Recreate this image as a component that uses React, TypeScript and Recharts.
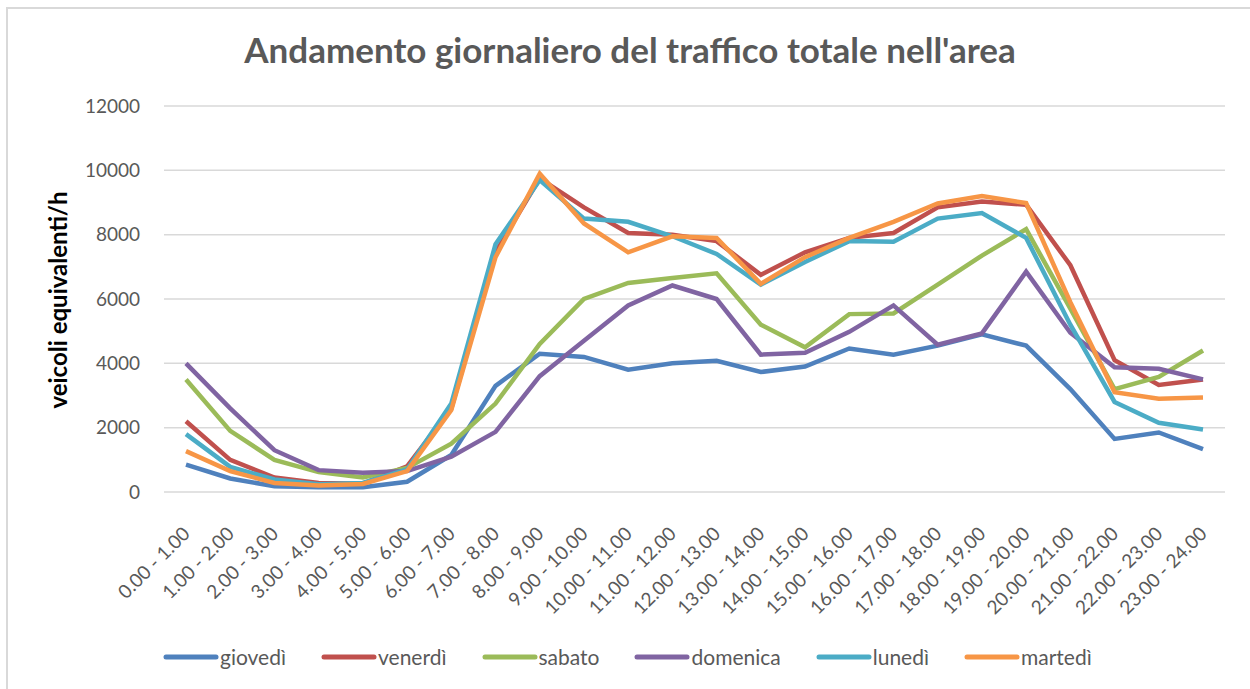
import React from 'react';
import { LineChart, Line, XAxis, YAxis, CartesianGrid, Legend } from 'recharts';

const hours = [
  '0.00 - 1.00', '1.00 - 2.00', '2.00 - 3.00', '3.00 - 4.00', '4.00 - 5.00', '5.00 - 6.00',
  '6.00 - 7.00', '7.00 - 8.00', '8.00 - 9.00', '9.00 - 10.00', '10.00 - 11.00', '11.00 - 12.00',
  '12.00 - 13.00', '13.00 - 14.00', '14.00 - 15.00', '15.00 - 16.00', '16.00 - 17.00', '17.00 - 18.00',
  '18.00 - 19.00', '19.00 - 20.00', '20.00 - 21.00', '21.00 - 22.00', '22.00 - 23.00', '23.00 - 24.00',
];

const giovedi = [850, 420, 180, 150, 150, 320, 1150, 3300, 4300, 4200, 3800, 4000, 4080, 3730, 3900, 4460, 4270, 4550, 4900, 4550, 3200, 1650, 1850, 1330];
const venerdi = [2200, 1000, 450, 280, 260, 800, 2600, 7450, 9750, 8850, 8050, 8000, 7800, 6750, 7450, 7900, 8050, 8850, 9030, 8930, 7050, 4100, 3330, 3500];
const sabato = [3500, 1900, 1000, 620, 450, 750, 1500, 2750, 4600, 6000, 6500, 6650, 6800, 5200, 4500, 5530, 5550, 6450, 7350, 8170, 5700, 3200, 3580, 4400];
const domenica = [4000, 2600, 1300, 680, 600, 650, 1100, 1870, 3600, 4700, 5800, 6420, 6000, 4270, 4330, 4980, 5800, 4580, 4930, 6850, 4950, 3880, 3830, 3500];
const lunedi = [1800, 780, 390, 240, 280, 700, 2750, 7700, 9700, 8500, 8400, 7950, 7400, 6450, 7150, 7800, 7780, 8500, 8670, 7900, 5200, 2800, 2150, 1940];
const martedi = [1270, 650, 280, 200, 250, 650, 2550, 7300, 9900, 8350, 7450, 7950, 7900, 6470, 7300, 7900, 8400, 8970, 9200, 8980, 5900, 3100, 2900, 2940];

const yTicks = [0, 2000, 4000, 6000, 8000, 10000, 12000];

const seriesNames = ['giovedì', 'venerdì', 'sabato', 'domenica', 'lunedì', 'martedì'];
const seriesKeys = ['giovedi', 'venerdi', 'sabato', 'domenica', 'lunedi', 'martedi'];
const seriesColors = ['#4F81BD', '#C0504D', '#9BBB59', '#8064A2', '#4BACC6', '#F79646'];

const data = hours.map((h, i) => ({
  hour: h,
  giovedi: giovedi[i],
  venerdi: venerdi[i],
  sabato: sabato[i],
  domenica: domenica[i],
  lunedi: lunedi[i],
  martedi: martedi[i],
}));

const FONT = 'Lato, "Open Sans", sans-serif';
const GRAY = '#595959';

const XTick = (props: any) => {
  const { x, y, payload } = props;
  const tx = x + 5;
  const ty = y + 35;
  return (
    <text
      x={tx}
      y={ty}
      transform={`rotate(-45 ${tx} ${ty})`}
      textAnchor="end"
      fill={GRAY}
      fontSize={19}
      fontFamily={FONT}
    >
      {payload.value}
    </text>
  );
};

const renderLegend = (props: any) => {
  const items = [...(props.payload || [])].sort(
    (a: any, b: any) => seriesNames.indexOf(a.value) - seriesNames.indexOf(b.value)
  );
  return (
    <div style={{ display: 'flex', alignItems: 'center', fontFamily: FONT, fontSize: 21, color: GRAY }}>
      {items.map((entry: any) => (
        <div key={entry.value} style={{ display: 'flex', alignItems: 'center', marginRight: 35 }}>
          <svg width={56} height={8}>
            <line x1={3} y1={4} x2={53} y2={4} stroke={entry.color} strokeWidth={5} strokeLinecap="round" />
          </svg>
          <span style={{ marginLeft: 1 }}>{entry.value}</span>
        </div>
      ))}
    </div>
  );
};

export default function App() {
  return (
    <div style={{ position: 'absolute', left: 0, top: 0, width: 1250, height: 689, background: '#fff', overflow: 'hidden' }}>
      <div style={{ position: 'absolute', left: 6, top: 7, width: 1400, height: 900, borderLeft: '2px solid #d9d9d9', borderTop: '2px solid #d9d9d9' }} />
      <svg style={{ position: 'absolute', left: 0, top: 0 }} width={1250} height={689}>
        <text x={630} y={63} textAnchor="middle" fontFamily={FONT} fontWeight={700} fontSize={35} fill={GRAY}>
          Andamento giornaliero del traffico totale nell'area
        </text>
        <text x={67} y={300} transform="rotate(-90 67 300)" textAnchor="middle" fontFamily={FONT} fontWeight={700} fontSize={24} fill="#000">
          veicoli equivalenti/h
        </text>
      </svg>
      <div style={{ position: 'absolute', left: 0, top: 0 }}>
        <LineChart width={1250} height={689} data={data} margin={{ top: 106, right: 25, bottom: 0, left: 0 }}>
          <CartesianGrid vertical={false} stroke="#d9d9d9" strokeWidth={1.5} />
          <XAxis
            dataKey="hour"
            interval={0}
            height={197}
            padding={{ left: 22, right: 22 }}
            axisLine={false}
            tickLine={false}
            tick={<XTick />}
          />
          <YAxis
            domain={[0, 12000]}
            ticks={yTicks}
            width={164}
            axisLine={false}
            tickLine={false}
            tickMargin={18}
            tick={{ fill: GRAY, fontSize: 19, fontFamily: FONT }}
          />
          <Legend
            layout="horizontal"
            verticalAlign="middle"
            align="center"
            content={renderLegend}
            wrapperStyle={{ top: 644, left: 163, width: 1060, height: 28 }}
          />
          {seriesKeys.map((k, i) => (
            <Line
              key={k}
              type="linear"
              dataKey={k}
              name={seriesNames[i]}
              stroke={seriesColors[i]}
              strokeWidth={4.5}
              dot={false}
              activeDot={false}
              isAnimationActive={false}
            />
          ))}
        </LineChart>
      </div>
    </div>
  );
}
